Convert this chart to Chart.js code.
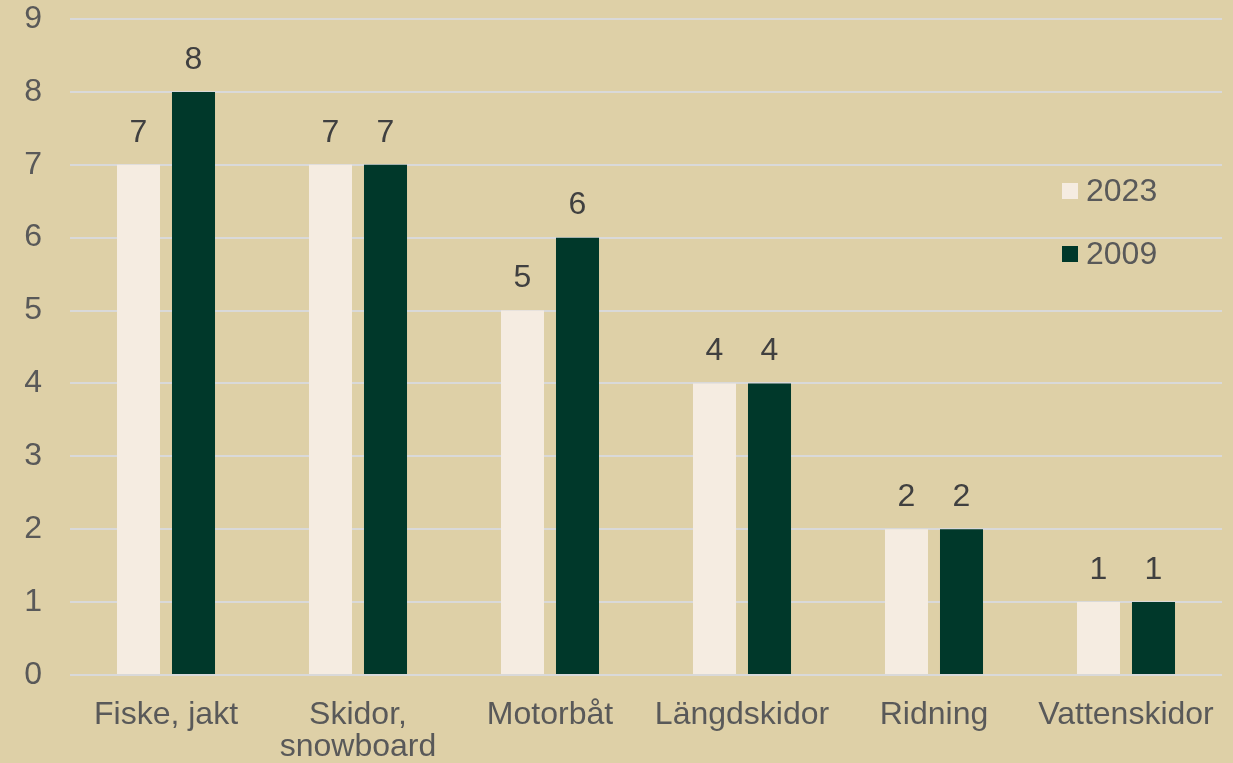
<!DOCTYPE html>
<html><head><meta charset="utf-8">
<script src="https://cdn.jsdelivr.net/npm/chart.js@4.4.0/dist/chart.umd.min.js"></script>
<style>
html,body{margin:0;padding:0;background:#DED0A7;}
#wrap{width:1233px;height:763px;position:relative;}
</style></head>
<body><div id="wrap"><canvas id="c" width="1233" height="763"></canvas></div>
<script>
const categories = [["Fiske, jakt"], ["Skidor,", "snowboard"], ["Motorbåt"], ["Längdskidor"], ["Ridning"], ["Vattenskidor"]];
const seriesNames = ["2023", "2009"];
const values2023 = [7, 7, 5, 4, 2, 1];
const values2009 = [8, 7, 6, 4, 2, 1];
const yTicks = [0, 1, 2, 3, 4, 5, 6, 7, 8, 9];

const FONT = "'Liberation Sans', Arial, sans-serif";
const colors = ["#F5ECE1", "#00382A"];

const labelPlugin = {
  id: 'valueLabels',
  afterDatasetsDraw(chart) {
    const ctx = chart.ctx;
    ctx.save();
    ctx.font = "32px " + FONT;
    ctx.fillStyle = "#404040";
    ctx.textAlign = "center";
    ctx.textBaseline = "middle";
    chart.data.datasets.forEach((ds, i) => {
      const meta = chart.getDatasetMeta(i);
      meta.data.forEach((bar, j) => {
        ctx.fillText(String(ds.data[j]), bar.x, bar.y - 32);
      });
    });
    ctx.restore();
  }
};

const legendPlugin = {
  id: 'customLegend',
  afterDraw(chart) {
    const ctx = chart.ctx;
    ctx.save();
    ctx.font = "32px " + FONT;
    ctx.textBaseline = "middle";
    ctx.textAlign = "left";
    const x0 = 1062, ys = [191, 254];
    chart.data.datasets.forEach((ds, i) => {
      ctx.fillStyle = ds.backgroundColor;
      ctx.fillRect(x0, ys[i] - 8, 16, 16);
      ctx.fillStyle = "#595959";
      ctx.fillText(ds.label, x0 + 24, ys[i] + 1);
    });
    ctx.restore();
  }
};

new Chart(document.getElementById('c'), {
  type: 'bar',
  data: {
    labels: categories,
    datasets: [
      { label: seriesNames[0], data: values2023, backgroundColor: colors[0], categoryPercentage: 0.573, barPercentage: 0.782 },
      { label: seriesNames[1], data: values2009, backgroundColor: colors[1], categoryPercentage: 0.573, barPercentage: 0.782 }
    ]
  },
  options: {
    responsive: false,
    animation: false,
    events: [],
    layout: { padding: { top: 19, right: 11, left: 0, bottom: 0 } },
    plugins: { legend: { display: false }, tooltip: { enabled: false } },
    scales: {
      x: {
        grid: { display: false, drawTicks: false },
        border: { display: false },
        ticks: { color: "#595959", font: { family: FONT, size: 32, lineHeight: 1.0 }, padding: 24, maxRotation: 0, autoSkip: false },
        afterFit(scale) { scale.height = 88; scale.paddingLeft = 0; scale.paddingRight = 0; }
      },
      y: {
        min: 0, max: 9,
        afterBuildTicks(scale) { scale.ticks = yTicks.map(v => ({ value: v })); },
        grid: { color: "#D9D9D9", lineWidth: 2, drawTicks: false },
        border: { display: false },
        ticks: { color: "#595959", font: { family: FONT, size: 32 }, padding: 28 },
        afterFit(scale) { scale.width = 70; scale.paddingTop = 0; scale.paddingBottom = 0; }
      }
    }
  },
  plugins: [labelPlugin, legendPlugin]
});
</script>
</body></html>
